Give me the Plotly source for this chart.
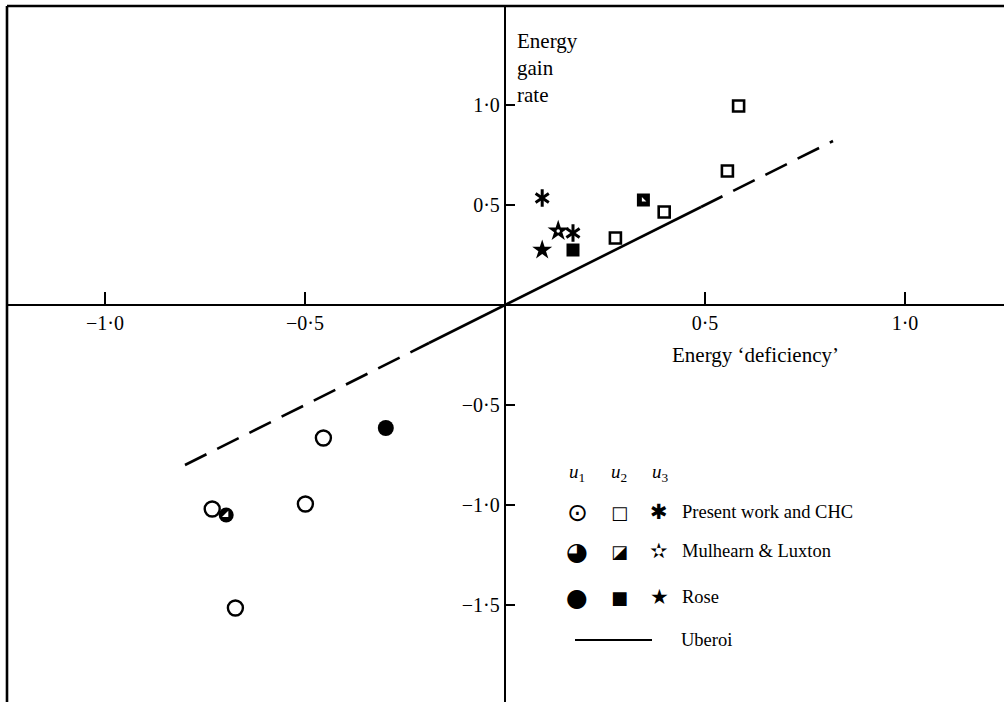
import plotly.graph_objects as go

# Axis ticks
x_ticks = [-1.0, -0.5, 0.5, 1.0]
x_tick_text = ["−1·0", "−0·5", "0·5", "1·0"]
y_ticks = [1.0, 0.5, -0.5, -1.0, -1.5]
y_tick_text = ["1·0", "0·5", "−0·5", "−1·0", "−1·5"]

# u1 (circles)
present_u1_x = [-0.454, -0.732, -0.499, -0.674]
present_u1_y = [-0.665, -1.02, -0.995, -1.515]
mulhearn_u1_x = [-0.697]
mulhearn_u1_y = [-1.05]
rose_u1_x = [-0.298]
rose_u1_y = [-0.615]

# u2 (squares)
present_u2_x = [0.276, 0.398, 0.556, 0.584]
present_u2_y = [0.335, 0.465, 0.67, 0.995]
mulhearn_u2_x = [0.346]
mulhearn_u2_y = [0.525]
rose_u2_x = [0.170]
rose_u2_y = [0.275]

# u3 (asterisks / stars)
present_u3_x = [0.093, 0.170]
present_u3_y = [0.535, 0.36]
mulhearn_u3_x = [0.133]
mulhearn_u3_y = [0.37]
rose_u3_x = [0.093]
rose_u3_y = [0.275]

# Uberoi: gain rate equals deficiency (slope 1)
uberoi_slope = 1.0
uberoi_solid_x = [-0.19, 0.49]
uberoi_dash_lo_x = [-0.80, -0.19]
uberoi_dash_hi_x = [0.49, 0.82]

W, H = 1004, 702
ML, MR, MT, MB = 7, 0, 6, 0
X_RANGE = [-1.245, 1.2475]
Y_RANGE = [-1.985, 1.495]
SERIF = "Liberation Serif"
SYM = "DejaVu Sans"
INK = "black"
TICK_SIZE = 20
TITLE_SIZE = 21
KEY_SIZE = 18.5

fig = go.Figure()


def add_points(x, y, **marker):
    fig.add_trace(go.Scatter(x=x, y=y, mode="markers", marker=marker,
                             showlegend=False, hoverinfo="skip"))


def add_line(x, dash):
    fig.add_trace(go.Scatter(x=x, y=[uberoi_slope * v for v in x], mode="lines",
                             line=dict(color=INK, width=2.6, dash=dash),
                             showlegend=False, hoverinfo="skip"))


add_line(uberoi_dash_lo_x, "24px,12px")
add_line(uberoi_solid_x, "solid")
add_line(uberoi_dash_hi_x, "24px,12px")

# circles
add_points(present_u1_x, present_u1_y, symbol="circle-open", size=15,
           color=INK, line=dict(width=2.4, color=INK))
add_points(mulhearn_u1_x, mulhearn_u1_y, symbol="circle", size=15,
           color=INK, line=dict(width=0, color=INK))
add_points(mulhearn_u1_x, mulhearn_u1_y, symbol="triangle-se", size=7,
           color="white", line=dict(width=0))
add_points(rose_u1_x, rose_u1_y, symbol="circle", size=16,
           color=INK, line=dict(width=0))

# squares
add_points(present_u2_x, present_u2_y, symbol="square-open", size=11,
           color=INK, line=dict(width=2.6, color=INK))
add_points(mulhearn_u2_x, mulhearn_u2_y, symbol="square", size=13,
           color=INK, line=dict(width=0))
add_points(mulhearn_u2_x, mulhearn_u2_y, symbol="triangle-sw", size=5,
           color="white", line=dict(width=0))
add_points(rose_u2_x, rose_u2_y, symbol="square", size=13,
           color=INK, line=dict(width=0))

# six-armed asterisks built from two three-armed marks
add_points(present_u3_x, present_u3_y, symbol="y-up-open", size=11,
           color=INK, line=dict(width=3, color=INK))
add_points(present_u3_x, present_u3_y, symbol="y-down-open", size=11,
           color=INK, line=dict(width=3, color=INK))
add_points(mulhearn_u3_x, mulhearn_u3_y, symbol="star", size=16,
           color=INK, line=dict(width=0))
add_points(mulhearn_u3_x, mulhearn_u3_y, symbol="circle", size=3.5,
           color="white", line=dict(width=0))
add_points(rose_u3_x, rose_u3_y, symbol="star", size=15,
           color=INK, line=dict(width=0))


def px_to_paper(px, py):
    return (px - ML) / (W - ML - MR), (H - MB - py) / (H - MT - MB)


def text_at(px, py, text, size=KEY_SIZE, xanchor="left", font=SERIF):
    xp, yp = px_to_paper(px, py)
    fig.add_annotation(x=xp, y=yp, xref="paper", yref="paper", text=text,
                       showarrow=False, xanchor=xanchor, yanchor="middle",
                       align="left", font=dict(family=font, size=size, color=INK))


# axis titles
text_at(515, 41, "Energy", size=TITLE_SIZE)
text_at(515, 68, "gain", size=TITLE_SIZE)
text_at(515, 95, "rate", size=TITLE_SIZE)
text_at(670, 355, "Energy ‘deficiency’", size=TITLE_SIZE)

# key
for px, t in [(577, "<i>u</i><sub>1</sub>"), (619, "<i>u</i><sub>2</sub>"),
              (660, "<i>u</i><sub>3</sub>")]:
    text_at(px, 473, t, size=19, xanchor="center")

rows = [
    (512, ["⊙", "□", "✱"], "Present work and CHC"),
    (551, ["◕", "◪", "✫"], "Mulhearn & Luxton"),
    (597, ["●", "■", "★"], "Rose"),
]
for py, glyphs, label in rows:
    for px, g, s in zip([577, 619, 659], glyphs, [25, 18, 21]):
        text_at(px, py, g, size=s, xanchor="center", font=SYM)
    text_at(680, py, label)

fig.add_shape(type="line", xref="paper", yref="paper",
              x0=px_to_paper(575, 0)[0], x1=px_to_paper(652, 0)[0],
              y0=px_to_paper(0, 640)[1], y1=px_to_paper(0, 640)[1],
              line=dict(color=INK, width=2))
text_at(679, 640, "Uberoi")

# outer frame (top and left edges)
fig.add_shape(type="line", xref="paper", yref="paper", x0=0, x1=1, y0=1, y1=1,
              line=dict(color=INK, width=2.6))
fig.add_shape(type="line", xref="paper", yref="paper", x0=0, x1=0, y0=0, y1=1,
              line=dict(color=INK, width=2.6))

x_pos = (0 - Y_RANGE[0]) / (Y_RANGE[1] - Y_RANGE[0])
y_pos = (0 - X_RANGE[0]) / (X_RANGE[1] - X_RANGE[0])

fig.update_layout(
    width=W, height=H,
    margin=dict(l=ML, r=MR, t=MT, b=MB),
    paper_bgcolor="white", plot_bgcolor="white",
    xaxis=dict(range=X_RANGE, anchor="free", position=x_pos,
               showline=True, linecolor=INK, linewidth=2.4,
               ticks="inside", ticklen=12, tickwidth=2, tickcolor=INK,
               tickvals=x_ticks, ticktext=x_tick_text,
               tickfont=dict(family=SERIF, size=TICK_SIZE, color=INK),
               showgrid=False, zeroline=False),
    yaxis=dict(range=Y_RANGE, anchor="free", position=y_pos,
               showline=True, linecolor=INK, linewidth=2.4,
               ticks="inside", ticklen=9, tickwidth=2, tickcolor=INK,
               tickvals=y_ticks, ticktext=y_tick_text,
               tickfont=dict(family=SERIF, size=TICK_SIZE, color=INK),
               showgrid=False, zeroline=False),
)

fig.write_html("out.html")
